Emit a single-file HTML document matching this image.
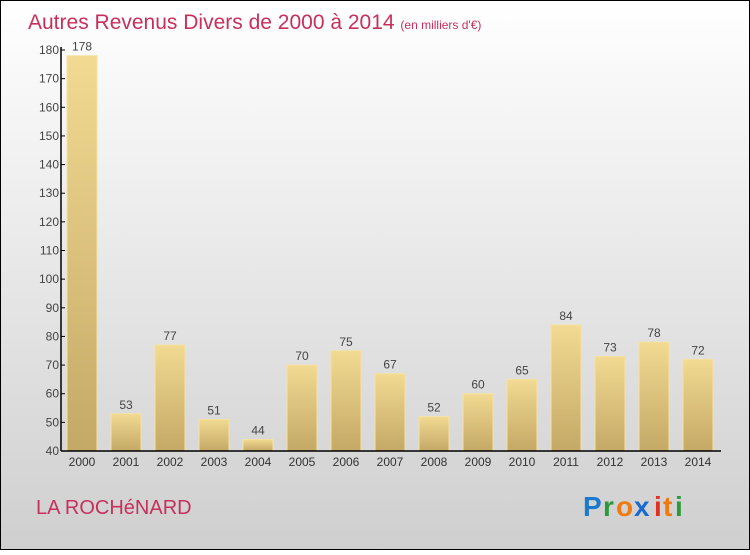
<!DOCTYPE html>
<html><head><meta charset="utf-8"><style>
body{margin:0;width:750px;height:550px;overflow:hidden;font-family:"Liberation Sans",sans-serif}
</style></head><body>
<svg width="750" height="550" xmlns="http://www.w3.org/2000/svg">
<defs>
<linearGradient id="bg" x1="0" y1="0" x2="0" y2="1"><stop offset="0" stop-color="#ffffff"/><stop offset="1" stop-color="#cfcfcf"/></linearGradient>
<linearGradient id="bar" x1="0" y1="0" x2="0" y2="1"><stop offset="0" stop-color="#f2da92"/><stop offset="1" stop-color="#c4a966"/></linearGradient>
</defs>
<rect x="0.5" y="0.5" width="749" height="549" fill="url(#bg)" stroke="#000"/>
<text x="28" y="29" font-size="21" fill="#c8305c">Autres Revenus Divers de 2000 à 2014 <tspan font-size="12">(en milliers d'€)</tspan></text>
<g id="bars"></g>
<g id="axes"></g>
<text x="36" y="514" font-size="20" fill="#c8305c">LA ROCHéNARD</text>
<g font-size="28" font-weight="bold">
<text x="583" y="516" fill="#1a7ad0">P</text><text x="603" y="516" fill="#2a9a3a">r</text><text x="616" y="516" fill="#f07a10">o</text><text x="634" y="516" fill="#1a6ad0">x</text><text x="654" y="516" fill="#e03020">i</text><text x="663" y="516" fill="#f07a10">t</text><text x="675" y="516" fill="#2a9a3a">i</text>
</g>
</svg>
<script>
const years=["2000","2001","2002","2003","2004","2005","2006","2007","2008","2009","2010","2011","2012","2013","2014"];
const values=[178,53,77,51,44,70,75,67,52,60,65,84,73,78,72];
const yTicks=[40,50,60,70,80,90,100,110,120,130,140,150,160,170,180];
const NS="http://www.w3.org/2000/svg";
const y0=451,yTop=50,vmin=40,vmax=180,x0=61,xEnd=721,band=44,first=82,bw=30;
const yS=v=>y0-(v-vmin)*(y0-yTop)/(vmax-vmin);
const xS=i=>first+i*band;
function mk(t,a,p){const e=document.createElementNS(NS,t);for(const k in a)e.setAttribute(k,a[k]);p.appendChild(e);return e;}
const bars=document.getElementById('bars'),axes=document.getElementById('axes');
values.forEach((v,i)=>{
 const r=mk('rect',{x:xS(i)-bw/2,y:yS(v),width:bw,height:y0-yS(v),fill:'url(#bar)',stroke:'#f5e2a0','stroke-width':1},bars);
 
 
 const t=mk('text',{x:xS(i),y:yS(v)-5,'text-anchor':'middle','font-size':12,fill:'#444'},bars);
 t.textContent=v;
 
 
 const xl=mk('text',{x:xS(i),y:y0+15,'text-anchor':'middle','font-size':12,fill:'#333'},axes);
 xl.textContent=years[i];
 
 
});
yTicks.forEach(v=>{
 mk('line',{x1:x0,x2:x0+4,y1:yS(v),y2:yS(v),stroke:'#000'},axes);
 const t=mk('text',{x:x0-2,y:yS(v)+4,'text-anchor':'end','font-size':12,fill:'#444'},axes);
 t.textContent=v;
 
 
});
const ya=mk('line',{x1:x0,x2:x0,y1:yTop-3,y2:y0,stroke:'#000','stroke-width':1.5},axes);


const xa=mk('line',{x1:x0,x2:xEnd,y1:y0,y2:y0,stroke:'#000','stroke-width':1.5},axes);


</script>
</body></html>
